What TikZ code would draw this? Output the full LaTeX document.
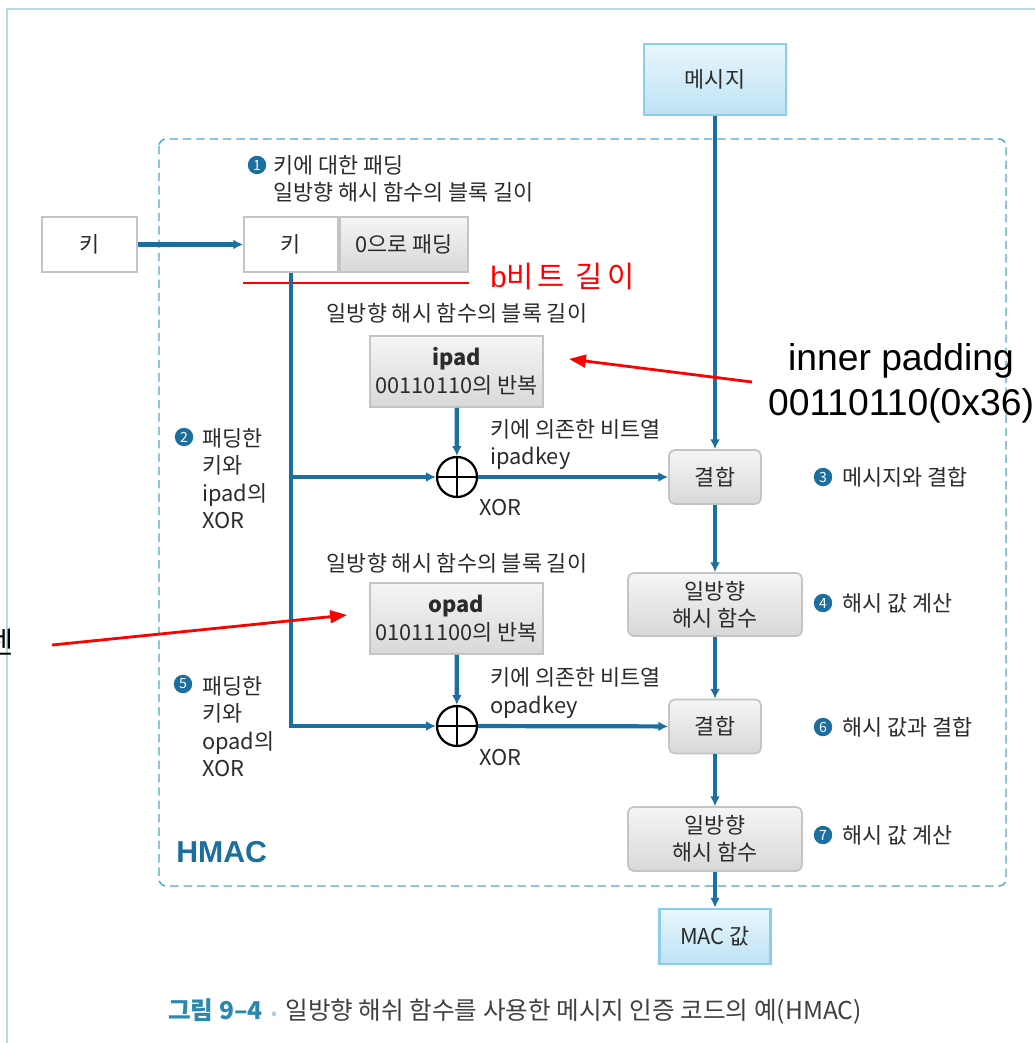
\documentclass[tikz,border=0pt]{standalone}
\usepackage{fontspec}
\setmainfont{Noto Sans CJK KR}
\newfontfamily\arialf{Liberation Sans}
\newfontfamily\redkr[LetterSpace=14]{Noto Sans CJK KR}
\usepackage{xcolor}
\usepackage{tikz}
\usetikzlibrary{positioning, arrows.meta}
\definecolor{hmacBlue}{HTML}{1B6E9E}
\definecolor{hmacDash}{HTML}{4AA8D0}
\definecolor{frameCyan}{HTML}{B5DDE3}
\definecolor{boxLine}{HTML}{C4C4C4}
\definecolor{grayTop}{HTML}{F5F5F5}
\definecolor{grayBot}{HTML}{D8D8D8}
\definecolor{ioLine}{HTML}{8CCDEA}
\definecolor{ioTop}{HTML}{E9F6FC}
\definecolor{ioBot}{HTML}{BDE2F5}
\definecolor{noteText}{HTML}{2B2B2B}
\definecolor{capBlue}{HTML}{2A88AE}
\definecolor{markRed}{HTML}{FF0000}

\tikzset{
  flow/.style={draw=hmacBlue, line width=3pt, -{Latex[length=7pt,width=7pt]}},
  keybox/.style={draw=boxLine, line width=1.2pt, fill=white, minimum width=2.35cm, minimum height=1.375cm, inner sep=0pt},
  padbox/.style={draw=boxLine, line width=1.2pt, top color=grayTop, bottom color=grayBot, minimum height=1.375cm, inner sep=0pt, align=center},
  constbox/.style={padbox, minimum width=4.325cm, minimum height=1.775cm},
  procbox/.style={padbox, rounded corners=4pt},
  iobox/.style={draw=ioLine, line width=2pt, top color=ioTop, bottom color=ioBot, inner sep=0pt},
  xorop/.style={circle, draw=black, line width=1.6pt, minimum size=1cm, inner sep=0pt,
    path picture={\draw[black, line width=1.6pt] (path picture bounding box.north) -- (path picture bounding box.south)
      (path picture bounding box.west) -- (path picture bounding box.east);}},
  stepnum/.style={circle, fill=hmacBlue, text=white, inner sep=0pt, minimum size=0.46cm, font=\fontsize{10}{10}\selectfont},
  note/.style={inner sep=0pt, align=left, anchor=west},
  redmark/.style={draw=markRed, line width=2pt, -{Triangle[length=12pt,width=9pt]}},
}

\begin{document}
\begin{tikzpicture}[x=0.025cm, y=-0.025cm, every node/.style={font=\fontsize{15.5}{19.5}\selectfont, text=noteText}]
  \useasboundingbox (0,0) rectangle (1034,1043);
  % page frame
  \draw[frameCyan, line width=1.2pt] (7,1080) -- (7,9) -- (1080,9);
  % HMAC region
  \draw[hmacDash, line width=1pt, dash pattern=on 6pt off 3.5pt, rounded corners=5pt] (159,139) rectangle (1006,886);
  \node[anchor=west, inner sep=0pt, text=hmacBlue, font=\arialf\bfseries\fontsize{21.5}{24}\selectfont] (hmac) at (176,852) {HMAC};

  % inputs
  \node[iobox, minimum width=3.55cm, minimum height=1.775cm] (msg) at (715,79.5) {메시지};
  \node[keybox, minimum width=2.375cm] (keyin) at (89.5,244.5) {키};
  \node[keybox] (keypad) at (291,244.5) {키};
  \node[padbox, minimum width=3.2cm, right=0pt of keypad] (zeropad) {0으로 패딩};
  \node[stepnum] (n1) at (257,165) {1};
  \node[note] (n1text) at (273,179) {키에 대한 패딩\\일방향 해시 함수의 블록 길이};

  % red marks
  \draw[markRed, line width=1.4pt] ([yshift=-0.25cm]keypad.south west) -- ([yshift=-0.25cm]zeropad.south east);
  \node[note, text=markRed, font=\redkr\fontsize{21}{24}\selectfont] (bitlen) at (490,276) {{\arialf b}비트 길이};

  % pads
  \node[inner sep=0pt] (ipadlen) at (457,313) {일방향 해시 함수의 블록 길이};
  \node[constbox] (ipad) at (456.5,371.5) {\textbf{ipad}\\00110110의 반복};
  \node[inner sep=0pt] (opadlen) at (457,563) {일방향 해시 함수의 블록 길이};
  \node[constbox] (opad) at (456.5,618.5) {\textbf{opad}\\01011100의 반복};

  % xor
  \node[xorop] (xor1) at (457,477) {};
  \node[xorop] (xor2) at (457,726) {};
  \node[note] (ipadkey) at (490,444.5) {키에 의존한 비트열\\ipadkey};
  \node[note] (opadkey) at (490,693) {키에 의존한 비트열\\opadkey};
  \node[note] (xor1name) at (479,508) {XOR};
  \node[note] (xor2name) at (479,758) {XOR};
  \node[stepnum] (n2) at (184,437) {2};
  \node[note] (n2text) at (202,478.5) {패딩한\\키와\\ipad의\\XOR};
  \node[stepnum] (n5) at (183,684) {5};
  \node[note] (n5text) at (202,726.5) {패딩한\\키와\\opad의\\XOR};

  % hash chain
  \node[procbox, minimum width=2.3cm, minimum height=1.35cm] (join1) at (715,477) {결합};
  \node[procbox, minimum width=4.35cm, minimum height=1.575cm] (hash1) at (715,604.5) {일방향\\해시 함수};
  \node[procbox, minimum width=2.3cm, minimum height=1.35cm] (join2) at (715,726.5) {결합};
  \node[procbox, minimum width=4.35cm, minimum height=1.6cm] (hash2) at (715,839) {일방향\\해시 함수};
  \node[iobox, minimum width=2.775cm, minimum height=1.375cm] (mac) at (715,936.5) {MAC 값};
  \node[stepnum] (n3) at (823,477) {3};
  \node[note] (n3text) at (842,477) {메시지와 결합};
  \node[stepnum] (n4) at (823,603) {4};
  \node[note] (n4text) at (842,603) {해시 값 계산};
  \node[stepnum] (n6) at (823,727) {6};
  \node[note] (n6text) at (842,727) {해시 값과 결합};
  \node[stepnum] (n7) at (823,835) {7};
  \node[note] (n7text) at (842,835) {해시 값 계산};

  % connectors
  \draw[flow] (keyin) -- (keypad);
  \draw[flow] (keypad.south) |- (xor2.west);
  \draw[flow] (keypad.south |- xor1) -- (xor1.west);
  \draw[flow] (ipad) -- (xor1);
  \draw[flow] (opad) -- (xor2);
  \draw[flow] (msg) -- (join1);
  \draw[flow] (xor1) -- (join1);
  \draw[flow] (join1) -- (hash1);
  \draw[flow] (hash1) -- (join2);
  \draw[flow] (xor2) -- (join2);
  \draw[flow] (join2) -- (hash2);
  \draw[flow] (hash2) -- (mac);

  % annotations
  \node[text=black, align=center, inner sep=0pt, font=\arialf\fontsize{26.5}{32}\selectfont] (innerpad) at (901,383) {inner padding\\00110110(0x36)};
  \coordinate (innertail) at (752,382);
  \coordinate (ipadmark) at (569,359);
  \draw[redmark] (innertail) -- (ipadmark);
  \node[anchor=east, inner sep=0pt, text=black, font=\fontsize{21}{24}\selectfont] (outerpad) at (14,642) {센};
  \coordinate (outertail) at (52,645);
  \coordinate (opadmark) at (347,615);
  \draw[redmark] (outertail) -- (opadmark);

  % caption
  \node[anchor=west, inner sep=0pt, text=darkgray, font=\fontsize{17.5}{21}\selectfont] (caption) at (168,1012)
    {{\bfseries\color{capBlue}그림 9–4}\hspace{6pt}{\color{capBlue!40}\scalebox{0.7}{•}}\hspace{6pt}일방향 해쉬 함수를 사용한 메시지 인증 코드의 예(HMAC)};
\end{tikzpicture}
\end{document}
